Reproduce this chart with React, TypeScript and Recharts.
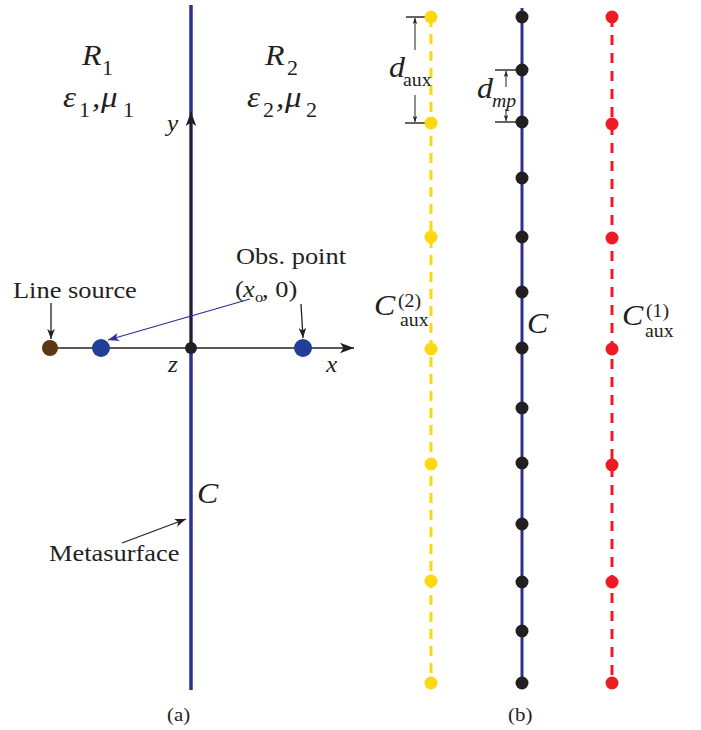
import React from 'react';
import { ScatterChart, Scatter, XAxis, YAxis } from 'recharts';

// diagram coordinates (1 unit = 1 px, y grows downward)
const W = 701;
const H = 730;
const FONT = '"Liberation Serif", "Times New Roman", serif';
const STRETCH = 1.1;

const BLUE = '#2e3192';
const DOT_BLUE = '#1f3f98';
const BLACK = '#231f20';
const BROWN = '#5e3813';
const YELLOW = '#fcd90f';
const RED = '#ed1c24';

// panel (a)
const metasurfaceA = [{ x: 191, y: 5 }, { x: 191, y: 690 }];
const xAxisLine = [{ x: 50, y: 348 }, { x: 346, y: 348 }];
const yAxisLine = [{ x: 191, y: 348 }, { x: 191, y: 120 }];
const sourcePoint = [{ x: 50, y: 348 }];
const bluePoints = [{ x: 101, y: 348 }, { x: 303, y: 348 }];
const originPoint = [{ x: 191, y: 348 }];

// panel (b)
const yellowX = 431;
const yellowYs = [17, 123, 237, 349, 464, 581, 683];
const blackX = 522;
const blackYs = [17, 70, 122, 178, 237, 292, 348, 408, 463, 524, 582, 631, 683];
const redX = 612;
const redYs = [17, 124, 238, 349, 465, 582, 683];
const metasurfaceB = [{ x: 522, y: 8 }, { x: 522, y: 683 }];

const yellowPoints = yellowYs.map((y) => ({ x: yellowX, y }));
const blackPoints = blackYs.map((y) => ({ x: blackX, y }));
const redPoints = redYs.map((y) => ({ x: redX, y }));

// arrows: shaft from (x1,y1) to tip (x2,y2)
const arrows = [
  { x1: 51, y1: 303, x2: 51, y2: 339, c: BLACK, w: 1.3, head: 10 },
  { x1: 301, y1: 304, x2: 303, y2: 338, c: BLACK, w: 1.3, head: 10 },
  { x1: 250, y1: 299, x2: 108, y2: 340, c: BLUE, w: 1.3, head: 11 },
  { x1: 122, y1: 543, x2: 186, y2: 519, c: BLACK, w: 1.3, head: 11 },
  { x1: 346, y1: 348, x2: 354, y2: 348, c: BLACK, w: 1.5, head: 14 },
  { x1: 191, y1: 125, x2: 191, y2: 112, c: BLACK, w: 1.5, head: 14 },
  { x1: 415, y1: 50, x2: 415, y2: 18, c: BLACK, w: 1, head: 6 },
  { x1: 415, y1: 95, x2: 415, y2: 122, c: BLACK, w: 1, head: 6 },
  { x1: 506, y1: 87, x2: 506, y2: 71, c: BLACK, w: 1, head: 6 },
  { x1: 506, y1: 109, x2: 506, y2: 121, c: BLACK, w: 1, head: 6 },
];

// dimension ticks
const ticks = [
  [{ x: 406, y: 17 }, { x: 428, y: 17 }],
  [{ x: 405, y: 123 }, { x: 428, y: 123 }],
  [{ x: 495, y: 70 }, { x: 517, y: 70 }],
  [{ x: 495, y: 122 }, { x: 517, y: 122 }],
];

// text pieces: x start, y baseline, kind
const texts = [
  { x: 82, y: 65, t: 'R', k: 'big' },
  { x: 102, y: 75, t: '1', k: 'sub' },
  { x: 63, y: 107, t: 'ε', k: 'sym' },
  { x: 79, y: 117, t: '1', k: 'sub' },
  { x: 92, y: 107, t: ',', k: 'sym' },
  { x: 101, y: 107, t: 'μ', k: 'sym' },
  { x: 123, y: 117, t: '1', k: 'sub' },
  { x: 265, y: 65, t: 'R', k: 'big' },
  { x: 287, y: 75, t: '2', k: 'sub' },
  { x: 247, y: 107, t: 'ε', k: 'sym' },
  { x: 263, y: 117, t: '2', k: 'sub' },
  { x: 276, y: 107, t: ',', k: 'sym' },
  { x: 285, y: 107, t: 'μ', k: 'sym' },
  { x: 306, y: 117, t: '2', k: 'sub' },
  { x: 167, y: 131, t: 'y', k: 'var' },
  { x: 236, y: 264, t: 'Obs. point', k: 'body' },
  { x: 235, y: 297, t: '(', k: 'body' },
  { x: 243, y: 297, t: 'x', k: 'ivar' },
  { x: 255, y: 302, t: 'o', k: 'small' },
  { x: 262, y: 297, t: ', 0)', k: 'body' },
  { x: 13, y: 298, t: 'Line source', k: 'body' },
  { x: 168, y: 372, t: 'z', k: 'var' },
  { x: 326, y: 372, t: 'x', k: 'var' },
  { x: 197, y: 503, t: 'C', k: 'big' },
  { x: 49, y: 561, t: 'Metasurface', k: 'body' },
  { x: 167, y: 721, t: '(a)', k: 'cap' },
  { x: 508, y: 721, t: '(b)', k: 'cap' },
  { x: 389, y: 77, t: 'd', k: 'big' },
  { x: 403, y: 86, t: 'aux', k: 'aux' },
  { x: 477, y: 98, t: 'd', k: 'big' },
  { x: 492, y: 107, t: 'mp', k: 'isub' },
  { x: 374, y: 315, t: 'C', k: 'big' },
  { x: 398, y: 307, t: '(2)', k: 'aux' },
  { x: 400, y: 326, t: 'aux', k: 'aux' },
  { x: 527, y: 333, t: 'C', k: 'big' },
  { x: 622, y: 325, t: 'C', k: 'big' },
  { x: 646, y: 317, t: '(1)', k: 'aux' },
  { x: 645, y: 337, t: 'aux', k: 'aux' },
];

const kinds: Record<string, { size: number; italic: boolean }> = {
  big: { size: 29, italic: true },
  sym: { size: 30, italic: true },
  sub: { size: 20, italic: false },
  aux: { size: 18, italic: false },
  isub: { size: 18, italic: true },
  var: { size: 23, italic: true },
  ivar: { size: 24, italic: true },
  small: { size: 15, italic: false },
  body: { size: 24, italic: false },
  cap: { size: 19, italic: false },
};

const hidden = () => <g />;

const dot = (fill: string, r: number) => (p: any) => (
  <circle cx={p.cx} cy={p.cy} r={r} fill={fill} />
);

const TextShape = (p: any) => {
  const k = kinds[p.payload.k];
  return (
    <text
      x={0}
      y={0}
      transform={`translate(${p.cx},${p.cy}) scale(${STRETCH},1)`}
      fontFamily={FONT}
      fontSize={k.size}
      fontStyle={k.italic ? 'italic' : 'normal'}
      fill={BLACK}
    >
      {p.payload.t}
    </text>
  );
};

const HeadShape = (p: any) => {
  const { x1, y1, x2, y2, c, head } = p.payload;
  const a = (Math.atan2(y2 - y1, x2 - x1) * 180) / Math.PI;
  const hw = head * 0.38;
  return (
    <path
      d={`M0,0 L${-head},${-hw} L${-head * 0.75},0 L${-head},${hw} Z`}
      fill={c}
      transform={`translate(${p.cx},${p.cy}) rotate(${a})`}
    />
  );
};

const seg = (data: any[], stroke: string, width: number, key: string, dash?: string) => (
  <Scatter
    key={key}
    data={data}
    line={{ stroke, strokeWidth: width, strokeDasharray: dash }}
    lineType="joint"
    shape={hidden}
    isAnimationActive={false}
  />
);

export default function App() {
  const heads = arrows.map((a) => ({ ...a, x: a.x2, y: a.y2 }));
  return (
    <div style={{ position: 'absolute', left: 0, top: 0, background: '#fff' }}>
      <ScatterChart width={W} height={H} margin={{ top: 0, right: 0, bottom: 0, left: 0 }}>
        <XAxis type="number" dataKey="x" domain={[0, W]} hide allowDataOverflow />
        <YAxis type="number" dataKey="y" domain={[0, H]} reversed hide allowDataOverflow />

        {seg(metasurfaceA, BLUE, 3.5, 'msa')}
        {seg(yAxisLine, BLACK, 1.8, 'yax')}
        {seg(xAxisLine, BLACK, 1.5, 'xax')}
        {seg(metasurfaceB, BLUE, 3, 'msb')}
        {seg(yellowPoints, YELLOW, 3, 'yl', '10 7')}
        {seg(redPoints, RED, 3, 'rl', '10 8')}
        {ticks.map((t, i) => seg(t, BLACK, 1.4, `tk${i}`))}
        {arrows.map((a, i) =>
          seg([{ x: a.x1, y: a.y1 }, { x: a.x2, y: a.y2 }], a.c, a.w, `ar${i}`)
        )}

        <Scatter data={sourcePoint} shape={dot(BROWN, 8)} isAnimationActive={false} />
        <Scatter data={bluePoints} shape={dot(DOT_BLUE, 9)} isAnimationActive={false} />
        <Scatter data={originPoint} shape={dot(BLACK, 6)} isAnimationActive={false} />
        <Scatter data={yellowPoints} shape={dot(YELLOW, 6.5)} isAnimationActive={false} />
        <Scatter data={blackPoints} shape={dot(BLACK, 6.5)} isAnimationActive={false} />
        <Scatter data={redPoints} shape={dot(RED, 6.5)} isAnimationActive={false} />
        <Scatter data={heads} shape={HeadShape} isAnimationActive={false} />
        <Scatter data={texts} shape={TextShape} isAnimationActive={false} />
      </ScatterChart>
    </div>
  );
}
